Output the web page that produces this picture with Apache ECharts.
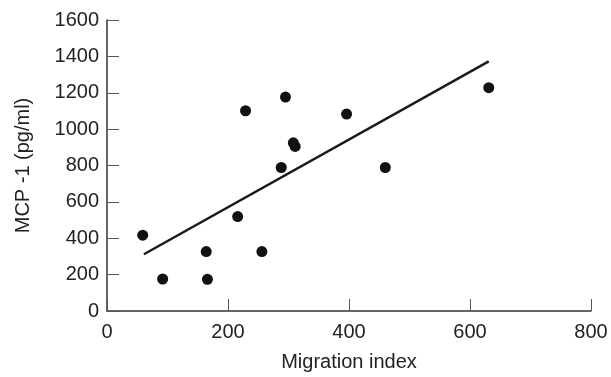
<!DOCTYPE html>
<html>
<head>
<meta charset="utf-8">
<script src="https://cdn.jsdelivr.net/npm/echarts@6/dist/echarts.min.js"></script>
<style>
  html, body { margin: 0; padding: 0; background: #fff; }
  #chart { width: 611px; height: 377px; }
</style>
</head>
<body>
<div id="chart"></div>
<script>
// measured points (migration index, MCP-1 pg/ml)
const migrationIndex = [59, 92, 164, 166, 216, 229, 256, 288, 295, 308, 311, 396, 460, 631];
const mcp1 = [417, 176, 327, 174, 519, 1101, 327, 789, 1176, 925, 905, 1083, 789, 1228];
// regression line end points
const fitX = [61, 631];
const fitY = [312, 1373];

const xTicks = [0, 200, 400, 600, 800];
const yTicks = [0, 200, 400, 600, 800, 1000, 1200, 1400, 1600];

const chart = echarts.init(document.getElementById('chart'));

const textFont = { fontFamily: '"Liberation Sans", Arial, sans-serif', fontSize: 20, color: '#222' };

chart.setOption({
  animation: false,
  grid: { left: 107, right: 20, top: 20, bottom: 63 },
  xAxis: {
    type: 'value',
    min: xTicks[0],
    max: xTicks[xTicks.length - 1],
    interval: 200,
    name: 'Migration index',
    nameLocation: 'middle',
    nameGap: 41,
    nameTextStyle: textFont,
    axisLine: { lineStyle: { color: '#333', width: 1.5 } },
    axisTick: { inside: true, length: 12, lineStyle: { color: '#555', width: 1 } },
    axisLabel: Object.assign({ margin: 11, formatter: v => String(v) }, textFont),
    splitLine: { show: false }
  },
  yAxis: {
    type: 'value',
    min: yTicks[0],
    max: yTicks[yTicks.length - 1],
    interval: 200,
    name: 'MCP -1 (pg/ml)',
    nameLocation: 'middle',
    nameGap: 74,
    nameTextStyle: textFont,
    axisLine: { show: true, lineStyle: { color: '#333', width: 1.5 } },
    axisTick: { show: true, inside: true, length: 12, lineStyle: { color: '#555', width: 1 } },
    axisLabel: Object.assign({ margin: 8, formatter: v => String(v) }, textFont),
    splitLine: { show: false }
  },
  series: [
    {
      type: 'line',
      data: fitX.map((x, i) => [x, fitY[i]]),
      symbol: 'none',
      lineStyle: { color: '#1a1a1a', width: 2.5 },
      z: 2
    },
    {
      type: 'scatter',
      data: migrationIndex.map((x, i) => [x, mcp1[i]]),
      symbol: 'circle',
      symbolSize: 11,
      itemStyle: { color: '#111', opacity: 1 },
      z: 3
    }
  ]
});
</script>
</body>
</html>
